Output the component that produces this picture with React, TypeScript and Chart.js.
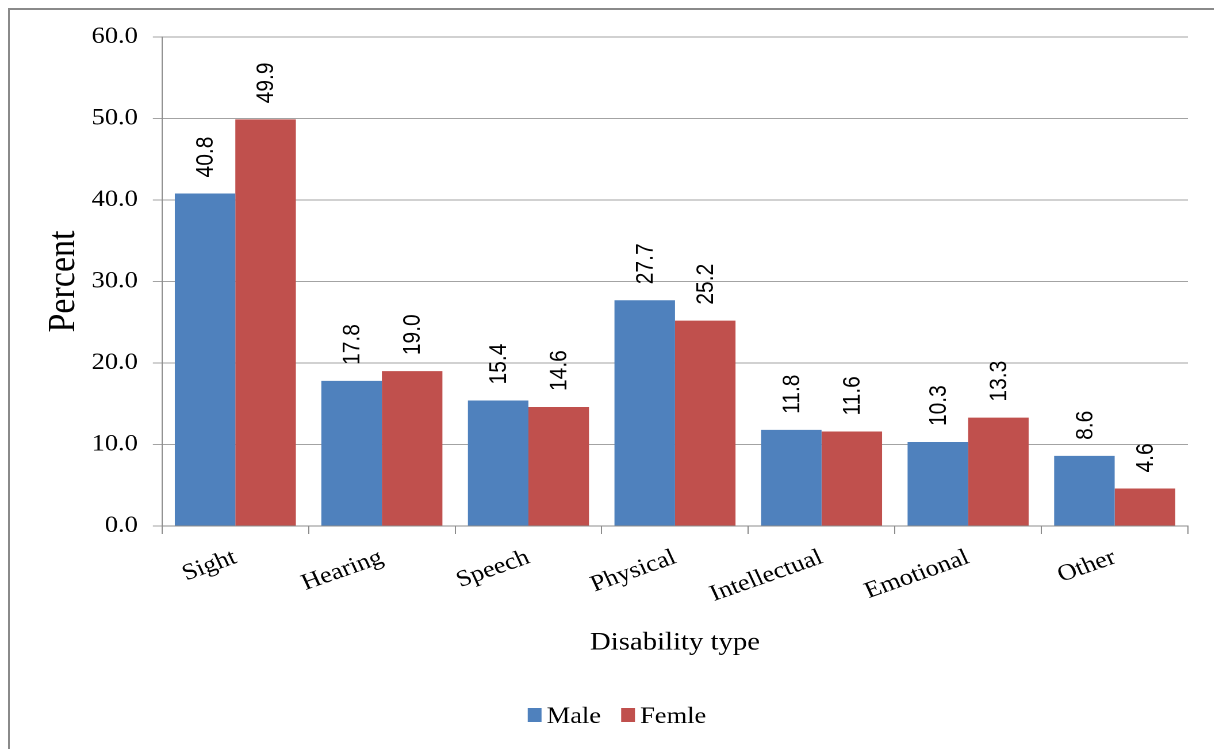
import React, { useEffect, useRef } from "react";
import { Chart, registerables } from "chart.js";

Chart.register(...registerables);

const categories = ["Sight", "Hearing", "Speech", "Physical", "Intellectual", "Emotional", "Other"];
const maleValues = [40.8, 17.8, 15.4, 27.7, 11.8, 10.3, 8.6];
const femaleValues = [49.9, 19.0, 14.6, 25.2, 11.6, 13.3, 4.6];
const seriesNames = ["Male", "Femle"];
const seriesColors = ["#4F81BD", "#C0504D"];
const yTickValues = [0, 10, 20, 30, 40, 50, 60];
const yTitle = "Percent";
const xTitle = "Disability type";

const SX = 1.15;
const W = 1056;
const H = 749;
const SERIF = "'Liberation Serif', 'Times New Roman', serif";
const SANS = "'Liberation Sans', Arial, sans-serif";

const valueLabels = {
  id: "valueLabels",
  afterDatasetsDraw(chart: any) {
    const ctx = chart.ctx;
    ctx.save();
    ctx.font = `21px ${SANS}`;
    ctx.fillStyle = "#000";
    ctx.textAlign = "left";
    ctx.textBaseline = "middle";
    chart.data.datasets.forEach((ds: any, di: number) => {
      const meta = chart.getDatasetMeta(di);
      meta.data.forEach((bar: any, i: number) => {
        const v = ds.data[i] as number;
        ctx.save();
        ctx.translate(bar.x + 1, bar.y - 16);
        ctx.rotate(-Math.PI / 2);
        ctx.fillText(v.toFixed(1), 0, 0);
        ctx.restore();
      });
    });
    ctx.restore();
  },
};

const customLegend = {
  id: "customLegend",
  afterDraw(chart: any) {
    const ctx = chart.ctx;
    ctx.save();
    ctx.font = `23px ${SERIF}`;
    const boxW = 12;
    const boxH = 14;
    const gap = 4.5;
    const spacing = 17.5;
    const items = chart.data.datasets.map((ds: any) => ({
      text: ds.label as string,
      color: ds.backgroundColor as string,
      w: ctx.measureText(ds.label).width,
    }));
    let total = 0;
    items.forEach((it: any, i: number) => {
      total += boxW + gap + it.w + (i < items.length - 1 ? spacing : 0);
    });
    const cx = 536.5;
    const cy = 715;
    let x = cx - total / 2;
    items.forEach((it: any) => {
      ctx.fillStyle = it.color;
      ctx.fillRect(x, cy - boxH / 2, boxW, boxH);
      x += boxW + gap;
      ctx.fillStyle = "#000";
      ctx.textAlign = "left";
      ctx.textBaseline = "alphabetic";
      ctx.fillText(it.text, x, cy + 8);
      x += it.w + spacing;
    });
    ctx.restore();
  },
};

export default function App() {
  const ref = useRef<HTMLCanvasElement>(null);

  useEffect(() => {
    if (!ref.current) return;
    const chart = new Chart(ref.current, {
      type: "bar",
      data: {
        labels: categories,
        datasets: [
          {
            label: seriesNames[0],
            data: maleValues,
            backgroundColor: seriesColors[0],
            categoryPercentage: 0.826,
            barPercentage: 1.0,
          },
          {
            label: seriesNames[1],
            data: femaleValues,
            backgroundColor: seriesColors[1],
            categoryPercentage: 0.826,
            barPercentage: 1.0,
          },
        ],
      },
      options: {
        responsive: false,
        devicePixelRatio: 2,
        animation: false,
        layout: { padding: { top: 37, right: 23, bottom: 0, left: 0 } },
        plugins: {
          legend: { display: false },
          tooltip: { enabled: false },
        },
        scales: {
          x: {
            afterFit(scale: any) {
              scale.height = 223;
            },
            grid: {
              display: true,
              drawOnChartArea: false,
              drawTicks: true,
              tickLength: 8,
              color: "#8c8c8c",
              offset: true,
            },
            border: { display: true, color: "#8c8c8c", width: 1 },
            ticks: {
              autoSkip: false,
              minRotation: 22,
              maxRotation: 22,
              padding: 10,
              color: "#000",
              font: { family: SERIF, size: 23 },
            },
            title: {
              display: true,
              text: xTitle,
              color: "#000",
              font: { family: SERIF, size: 25 },
              padding: { top: 0, bottom: 91 },
            },
          },
          y: {
            min: yTickValues[0],
            max: yTickValues[yTickValues.length - 1],
            afterFit(scale: any) {
              scale.width = 140.9;
            },
            ticks: {
              stepSize: yTickValues[1] - yTickValues[0],
              padding: 13,
              color: "#000",
              font: { family: SERIF, size: 23 },
              callback: (v: any) => Number(v).toFixed(1),
            },
            grid: {
              color: "#a3a3a3",
              lineWidth: 1,
              drawTicks: true,
              tickLength: 8,
            },
            border: { display: true, color: "#8c8c8c", width: 1 },
            title: {
              display: true,
              text: yTitle,
              color: "#000",
              font: { family: SERIF, size: 34 },
              padding: { top: 35, bottom: 0 },
            },
          },
        },
      },
      plugins: [valueLabels, customLegend],
    } as any);
    return () => chart.destroy();
  }, []);

  return (
    <div
      style={{
        position: "absolute",
        left: 0,
        top: 0,
        width: 1214,
        height: 749,
        overflow: "hidden",
        background: "#fff",
      }}
    >
      <div
        style={{
          position: "absolute",
          left: 8,
          top: 8,
          width: 1400,
          height: 900,
          border: "2px solid #8a8a8a",
          boxSizing: "border-box",
        }}
      />
      <canvas
        ref={ref}
        width={W}
        height={H}
        style={{
          position: "absolute",
          left: 0,
          top: 0,
          width: W,
          height: H,
          transform: `scaleX(${SX})`,
          transformOrigin: "0 0",
        }}
      />
    </div>
  );
}
